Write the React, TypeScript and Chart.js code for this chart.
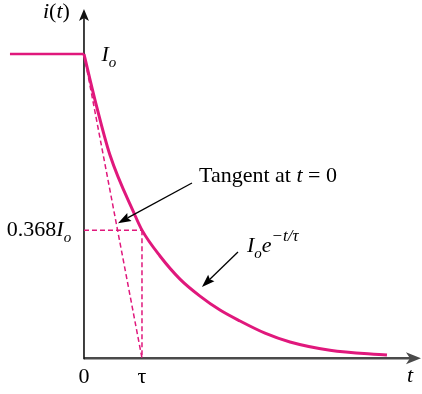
import React, { useEffect, useRef } from "react";
import { Chart, registerables } from "chart.js";

Chart.register(...registerables);

// ---- data (t in units of tau, i in units of Io) ----
const stepT = [-1.276, 0];
const stepI = [1, 1];
const decayT = [0, 0.19, 0.448, 0.879, 1.0, 1.31, 1.655, 2.0, 2.345, 2.69, 3.121, 3.552, 4.241, 5.224];
const decayI = [1, 0.849, 0.668, 0.47, 0.421, 0.336, 0.26, 0.204, 0.158, 0.122, 0.082, 0.053, 0.026, 0.01];
const tangentT = [0, 1];
const tangentI = [1, 0];
const tauValue = 1;
const levelValue = 0.421; // the 0.368 Io level as drawn
const tickLabels = ["0", "τ"];
const tickValues = [0, 1];

const MAGENTA = "#e0187c";
const FONT = "Liberation Serif";

const pts = (xs: number[], ys: number[]) => xs.map((x, i) => ({ x, y: ys[i] }));

type Run = { t: string; it?: boolean; sub?: boolean; sup?: boolean };

function drawRuns(ctx: CanvasRenderingContext2D, x: number, y: number, runs: Run[], size: number, align: "left" | "center" = "left") {
  const fontFor = (r: Run) => {
    const s = r.sub ? Math.round(size * 0.68) : r.sup ? Math.round(size * 0.76) : size;
    return `${r.it ? "italic " : ""}${s}px "${FONT}"`;
  };
  let total = 0;
  const widths = runs.map((r) => {
    ctx.font = fontFor(r);
    const w = ctx.measureText(r.t).width;
    total += w;
    return w;
  });
  let cx = align === "center" ? x - total / 2 : x;
  ctx.fillStyle = "#000";
  ctx.textBaseline = "alphabetic";
  ctx.textAlign = "left";
  runs.forEach((r, i) => {
    ctx.font = fontFor(r);
    const dy = r.sub ? size * 0.28 : r.sup ? -size * 0.5 : 0;
    ctx.fillText(r.t, cx, y + dy);
    cx += widths[i];
  });
}

function arrowHead(ctx: CanvasRenderingContext2D, x1: number, y1: number, x2: number, y2: number, len: number, half: number, notch: number, color: string) {
  const a = Math.atan2(y2 - y1, x2 - x1);
  const c = Math.cos(a), s = Math.sin(a);
  const bx = x2 - len * c, by = y2 - len * s;
  ctx.fillStyle = color;
  ctx.beginPath();
  ctx.moveTo(x2, y2);
  ctx.lineTo(bx - half * s, by + half * c);
  ctx.lineTo(x2 - (len - notch) * c, y2 - (len - notch) * s);
  ctx.lineTo(bx + half * s, by - half * c);
  ctx.closePath();
  ctx.fill();
}

function arrow(ctx: CanvasRenderingContext2D, x1: number, y1: number, x2: number, y2: number, color: string, width: number, len: number, half: number, notch: number) {
  const a = Math.atan2(y2 - y1, x2 - x1);
  ctx.strokeStyle = color;
  ctx.lineWidth = width;
  ctx.setLineDash([]);
  ctx.beginPath();
  ctx.moveTo(x1, y1);
  ctx.lineTo(x2 - (len - notch) * Math.cos(a), y2 - (len - notch) * Math.sin(a));
  ctx.stroke();
  arrowHead(ctx, x1, y1, x2, y2, len, half, notch, color);
}

const overlay = {
  id: "overlay",
  beforeDatasetsDraw(chart: any) {
    const ctx = chart.ctx as CanvasRenderingContext2D;
    const xs = chart.scales.x, ys = chart.scales.y;
    const X = (v: number) => xs.getPixelForValue(v);
    const Y = (v: number) => ys.getPixelForValue(v);
    ctx.save();
    arrow(ctx, X(0), Y(0), X(5.81), Y(0), "#4a4a4a", 2.5, 15, 6, 4);
    arrow(ctx, X(0), Y(0) + 1, X(0), Y(1.148), "#111", 1.6, 12, 5, 3);
    ctx.restore();
  },
  afterDatasetsDraw(chart: any) {
    const ctx = chart.ctx as CanvasRenderingContext2D;
    const xs = chart.scales.x, ys = chart.scales.y;
    const X = (v: number) => xs.getPixelForValue(v);
    const Y = (v: number) => ys.getPixelForValue(v);
    ctx.save();
    arrow(ctx, X(1.862), Y(0.576), X(0.586), Y(0.444), "#000", 1.3, 13, 4.5, 2);
    arrow(ctx, X(2.655), Y(0.349), X(2.034), Y(0.234), "#000", 1.3, 13, 4.5, 2);
    drawRuns(ctx, X(-0.707), Y(1.118), [{ t: "i", it: true }, { t: "(" }, { t: "t", it: true }, { t: ")" }], 22);
    drawRuns(ctx, X(0.3), Y(0.978), [{ t: "I", it: true }, { t: "o", it: true, sub: true }], 22);
    drawRuns(ctx, X(-1.33), Y(0.401), [{ t: "0.368" }, { t: "I", it: true }, { t: "o", it: true, sub: true }], 22);
    drawRuns(ctx, X(1.983), Y(0.579), [{ t: "Tangent at " }, { t: "t", it: true }, { t: " = 0" }], 22);
    drawRuns(ctx, X(2.81), Y(0.349), [{ t: "I", it: true }, { t: "o", it: true, sub: true }, { t: "e", it: true }, { t: "−t/τ", it: true, sup: true }], 22);
    tickValues.forEach((v, i) => drawRuns(ctx, X(v), Y(-0.082), [{ t: tickLabels[i] }], 22, "center"));
    drawRuns(ctx, X(5.62), Y(-0.079), [{ t: "t", it: true }], 22, "center");
    ctx.restore();
  },
};

export default function App() {
  const ref = useRef<HTMLCanvasElement | null>(null);
  useEffect(() => {
    if (!ref.current) return;
    const dashed = { borderColor: MAGENTA, borderWidth: 1.5, borderDash: [5, 3], pointRadius: 0, showLine: true, fill: false };
    const chart = new Chart(ref.current, {
      type: "scatter",
      data: {
        datasets: [
          { data: pts(stepT, stepI), borderColor: MAGENTA, borderWidth: 2.5, pointRadius: 0, showLine: true },
          { data: pts(decayT, decayI), borderColor: MAGENTA, borderWidth: 3, pointRadius: 0, showLine: true, cubicInterpolationMode: "monotone" },
          { data: pts(tangentT, tangentI), ...dashed },
          { data: [{ x: 0, y: levelValue }, { x: tauValue, y: levelValue }], ...dashed },
          { data: [{ x: tauValue, y: levelValue }, { x: tauValue, y: 0 }], ...dashed },
        ] as any,
      },
      options: {
        animation: false,
        responsive: false,
        maintainAspectRatio: false,
        layout: { padding: 0 },
        plugins: { legend: { display: false }, tooltip: { enabled: false } },
        scales: {
          x: { type: "linear", min: -1.448, max: 5.828, display: false },
          y: { type: "linear", min: -0.118, max: 1.178, display: false },
        },
        elements: { line: { borderCapStyle: "butt" } },
      },
      plugins: [overlay],
    });
    return () => chart.destroy();
  }, []);
  return (
    <div style={{ position: "fixed", left: 0, top: 0, width: 422, height: 394, background: "#fff" }}>
      <canvas ref={ref} width={422} height={394} />
    </div>
  );
}
